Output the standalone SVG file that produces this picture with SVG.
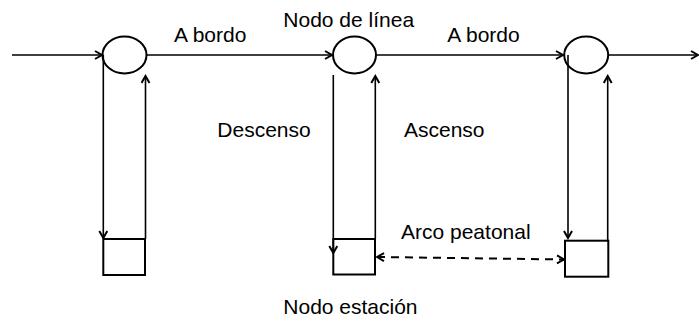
<svg xmlns="http://www.w3.org/2000/svg" width="699" height="322" viewBox="0 0 699 322">
<defs>
<marker id="arr" markerUnits="userSpaceOnUse" markerWidth="12" markerHeight="12" refX="8" refY="5" orient="auto">
<path d="M1,1 L8,5 L1,9" fill="none" stroke="#000" stroke-width="2"/>
</marker>
<marker id="arrS" markerUnits="userSpaceOnUse" markerWidth="12" markerHeight="12" refX="1" refY="5" orient="auto">
<path d="M8,1 L1,5 L8,9" fill="none" stroke="#000" stroke-width="2"/>
</marker>
</defs>
<style>
.n{fill:#fff;stroke:#000;stroke-width:2}
.e{fill:none;stroke:#000;stroke-width:1.6}
.d{fill:none;stroke:#000;stroke-width:2;stroke-dasharray:8,6}
text{font-family:"Liberation Sans",Arial,sans-serif;font-size:21px;fill:#000}
</style>
<rect width="699" height="322" fill="#fff"/>
<g id="connectors">
<line class="e" x1="12" y1="55" x2="102" y2="55" marker-end="url(#arr)"/>
<line class="e" x1="146.5" y1="55" x2="332" y2="55" marker-end="url(#arr)"/>
<line class="e" x1="376.5" y1="55" x2="563" y2="55" marker-end="url(#arr)"/>
<line class="e" x1="608.5" y1="55" x2="698" y2="55" marker-end="url(#arr)"/>
<line class="e" x1="103.3" y1="55" x2="103.3" y2="238" marker-end="url(#arr)"/>
<line class="e" x1="145.5" y1="239" x2="145.5" y2="76" marker-end="url(#arr)"/>
<line class="e" x1="333.3" y1="75" x2="333.3" y2="253" marker-end="url(#arr)"/>
<line class="e" x1="375.3" y1="239" x2="375.3" y2="76" marker-end="url(#arr)"/>
<line class="e" x1="568" y1="55" x2="568" y2="238" marker-end="url(#arr)"/>
<line class="e" x1="607.7" y1="241" x2="607.7" y2="76" marker-end="url(#arr)"/>
<line class="d" x1="377" y1="257" x2="564" y2="259.5" marker-start="url(#arrS)" marker-end="url(#arr)"/>
</g>
<g id="linea1"><ellipse class="n" cx="124.5" cy="55" rx="22" ry="18.5" fill-opacity="0"/></g>
<g id="linea2"><ellipse class="n" cx="354.5" cy="55" rx="21.5" ry="18.5"/></g>
<g id="linea3"><ellipse class="n" cx="586.2" cy="55" rx="22" ry="18.5" fill-opacity="0"/></g>
<g id="estacion1"><rect class="n" x="103.3" y="239" width="41.7" height="36" fill-opacity="0"/></g>
<g id="estacion2"><rect class="n" x="333.3" y="239" width="41.7" height="35.5" fill-opacity="0"/></g>
<g id="estacion3"><rect class="n" x="565" y="240.7" width="43.3" height="36"/></g>
<g id="labels">
<text x="174" y="41.7">A bordo</text>
<text x="283.3" y="26.7">Nodo de línea</text>
<text x="447.3" y="41.7">A bordo</text>
<text x="217.3" y="137.3">Descenso</text>
<text x="404" y="137.3">Ascenso</text>
<text x="401" y="238.5">Arco peatonal</text>
<text x="283.3" y="314">Nodo estación</text>
</g>
</svg>
